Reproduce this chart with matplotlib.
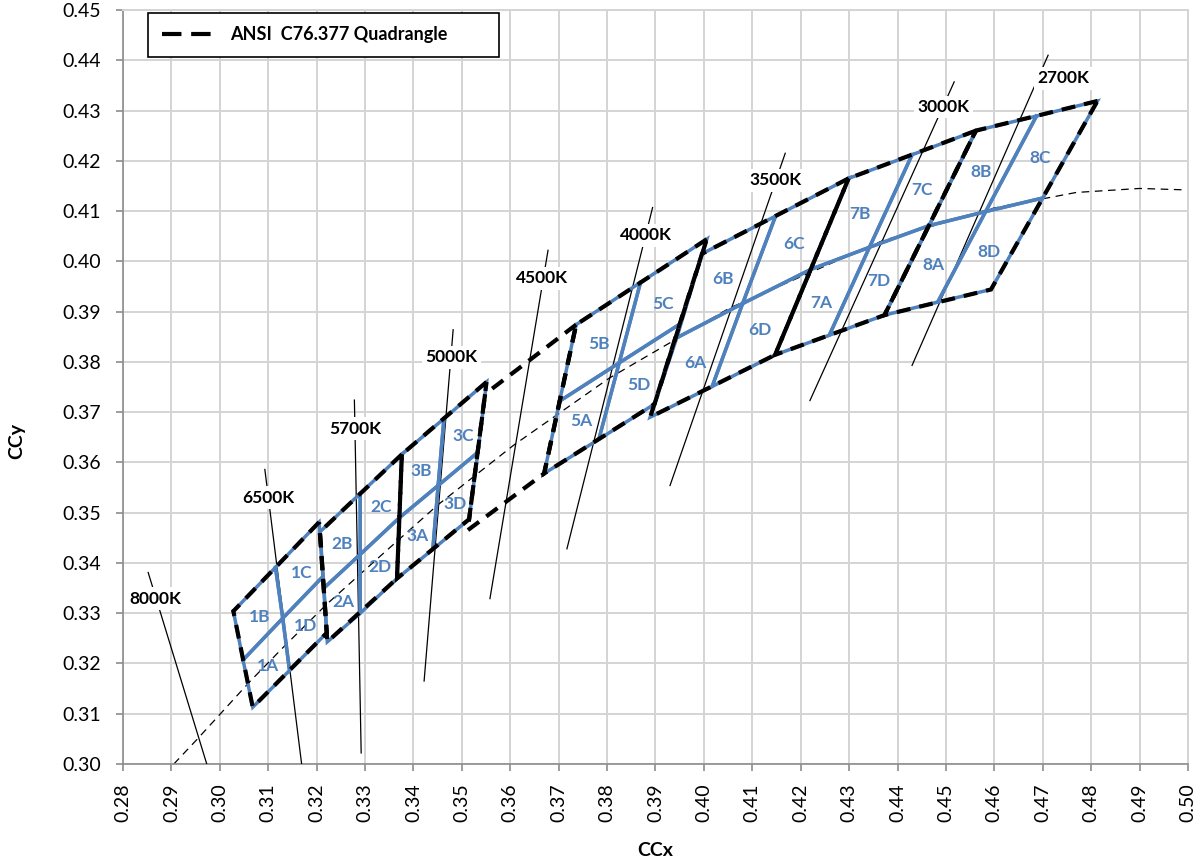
import matplotlib
matplotlib.use('Agg')
import matplotlib.pyplot as plt
from matplotlib.lines import Line2D
import numpy as np

plt.rcParams['font.family'] = ['Lato', 'DejaVu Sans']
plt.rcParams['lines.scale_dashes'] = False

# ---------------- data ----------------
# ANSI C78.377 quadrangles (4 corners each)
ansi_cct = ['2700K', '3000K', '3500K', '4000K', '4500K', '5000K', '5700K', '6500K']
ansi_x = [[0.4813, 0.4562, 0.4373, 0.4593],
          [0.4562, 0.4299, 0.4147, 0.4373],
          [0.4299, 0.3996, 0.3889, 0.4147],
          [0.4006, 0.3736, 0.3670, 0.3898],
          [0.3736, 0.3548, 0.3512, 0.3670],
          [0.3551, 0.3376, 0.3366, 0.3515],
          [0.3376, 0.3207, 0.3222, 0.3366],
          [0.3205, 0.3028, 0.3068, 0.3221]]
ansi_y = [[0.4319, 0.4260, 0.3893, 0.3944],
          [0.4260, 0.4165, 0.3814, 0.3893],
          [0.4165, 0.4015, 0.3690, 0.3814],
          [0.4044, 0.3874, 0.3578, 0.3716],
          [0.3874, 0.3736, 0.3465, 0.3578],
          [0.3760, 0.3616, 0.3369, 0.3487],
          [0.3616, 0.3462, 0.3243, 0.3369],
          [0.3481, 0.3304, 0.3113, 0.3261]]

# sub-bins (blue)
bin_names = ['1A', '1B', '1C', '1D', '2A', '2B', '2C', '2D', '3A', '3B', '3C', '3D',
             '5A', '5B', '5C', '5D', '6A', '6B', '6C', '6D', '7A', '7B', '7C', '7D',
             '8A', '8B', '8C', '8D']
bin_x = [[0.3048, 0.3130, 0.3144, 0.3068], [0.3028, 0.3115, 0.3130, 0.3048],
         [0.3115, 0.3205, 0.3213, 0.3130], [0.3130, 0.3213, 0.3221, 0.3144],
         [0.3215, 0.3290, 0.3290, 0.3222], [0.3207, 0.3290, 0.3290, 0.3215],
         [0.3290, 0.3376, 0.3371, 0.3290], [0.3290, 0.3371, 0.3366, 0.3290],
         [0.3371, 0.3451, 0.3440, 0.3366], [0.3376, 0.3463, 0.3451, 0.3371],
         [0.3463, 0.3551, 0.3533, 0.3451], [0.3451, 0.3533, 0.3515, 0.3440],
         [0.3702, 0.3825, 0.3783, 0.3670], [0.3736, 0.3869, 0.3825, 0.3702],
         [0.3869, 0.4006, 0.3950, 0.3825], [0.3825, 0.3950, 0.3898, 0.3783],
         [0.3944, 0.4080, 0.4017, 0.3889], [0.3996, 0.4148, 0.4080, 0.3944],
         [0.4148, 0.4299, 0.4221, 0.4080], [0.4080, 0.4221, 0.4147, 0.4017],
         [0.4221, 0.4342, 0.4259, 0.4147], [0.4299, 0.4430, 0.4342, 0.4221],
         [0.4430, 0.4562, 0.4465, 0.4342], [0.4342, 0.4465, 0.4373, 0.4259],
         [0.4465, 0.4582, 0.4483, 0.4373], [0.4562, 0.4687, 0.4582, 0.4465],
         [0.4687, 0.4813, 0.4700, 0.4582], [0.4582, 0.4700, 0.4593, 0.4483]]
bin_y = [[0.3207, 0.3290, 0.3186, 0.3113], [0.3304, 0.3391, 0.3290, 0.3207],
         [0.3391, 0.3481, 0.3373, 0.3290], [0.3290, 0.3373, 0.3261, 0.3186],
         [0.3350, 0.3417, 0.3300, 0.3243], [0.3462, 0.3538, 0.3417, 0.3350],
         [0.3538, 0.3616, 0.3490, 0.3417], [0.3417, 0.3490, 0.3369, 0.3300],
         [0.3490, 0.3554, 0.3427, 0.3369], [0.3616, 0.3687, 0.3554, 0.3490],
         [0.3687, 0.3760, 0.3620, 0.3554], [0.3554, 0.3620, 0.3487, 0.3427],
         [0.3722, 0.3798, 0.3646, 0.3578], [0.3874, 0.3958, 0.3798, 0.3722],
         [0.3958, 0.4044, 0.3875, 0.3798], [0.3798, 0.3875, 0.3716, 0.3646],
         [0.3848, 0.3916, 0.3751, 0.3690], [0.4015, 0.4090, 0.3916, 0.3848],
         [0.4090, 0.4165, 0.3984, 0.3916], [0.3916, 0.3984, 0.3814, 0.3751],
         [0.3984, 0.4028, 0.3853, 0.3814], [0.4165, 0.4212, 0.4028, 0.3984],
         [0.4212, 0.4260, 0.4071, 0.4028], [0.4028, 0.4071, 0.3893, 0.3853],
         [0.4071, 0.4099, 0.3919, 0.3893], [0.4260, 0.4289, 0.4099, 0.4071],
         [0.4289, 0.4319, 0.4126, 0.4099], [0.4099, 0.4126, 0.3944, 0.3919]]
bin_label_x = [0.3100, 0.3083, 0.3169, 0.3178, 0.3255, 0.3252, 0.3334, 0.3330,
               0.3408, 0.3417, 0.3502, 0.3486, 0.3746, 0.3784, 0.3915, 0.3865,
               0.3982, 0.4040, 0.4186, 0.4115, 0.4243, 0.4323, 0.4450, 0.4361,
               0.4474, 0.4572, 0.4695, 0.4588]
bin_label_y = [0.3195, 0.3293, 0.3380, 0.3275, 0.3323, 0.3438, 0.3511, 0.3391,
               0.3454, 0.3582, 0.3652, 0.3517, 0.3683, 0.3835, 0.3916, 0.3753,
               0.3797, 0.3964, 0.4035, 0.3863, 0.3917, 0.4094, 0.4141, 0.3960,
               0.3993, 0.4178, 0.4206, 0.4019]

# isotherm lines (CCT lines)
iso_labels = ['8000K', '6500K', '5700K', '5000K', '4500K', '4000K', '3500K', '3000K', '2700K']
iso_x0 = [0.2852, 0.3093, 0.3278, 0.3482, 0.3678, 0.3894, 0.4168, 0.4517, 0.4711]
iso_y0 = [0.3381, 0.3586, 0.3724, 0.3864, 0.4022, 0.4107, 0.4215, 0.4357, 0.4410]
iso_x1 = [0.2973, 0.3169, 0.3292, 0.3422, 0.3558, 0.3717, 0.3930, 0.4219, 0.4430]
iso_y1 = [0.3000, 0.3000, 0.3022, 0.3165, 0.3329, 0.3428, 0.3554, 0.3723, 0.3793]
iso_label_x = [0.2867, 0.3100, 0.3279, 0.3478, 0.3666, 0.3881, 0.4147, 0.4494, 0.4742]
iso_label_y = [0.3329, 0.3530, 0.3667, 0.3809, 0.3966, 0.4052, 0.4161, 0.4307, 0.4364]

# Planckian locus
planck_x = [0.2905, 0.2952, 0.3064, 0.3135, 0.3221, 0.3325, 0.3451, 0.3608,
            0.3805, 0.4053, 0.4369, 0.4599, 0.4769, 0.4900, 0.5000]
planck_y = [0.3000, 0.3048, 0.3166, 0.3236, 0.3318, 0.3408, 0.3516, 0.3635,
            0.3768, 0.3907, 0.4041, 0.4106, 0.4137, 0.4145, 0.4142]

legend_label = 'ANSI  C76.377 Quadrangle'

# ---------------- plot ----------------
W, H = 1197, 864
fig = plt.figure(figsize=(W / 100, H / 100), dpi=100)
ax = fig.add_axes([123 / W, 1 - 764 / H, 1065 / W, 754 / H])

blue = '#4F81BD'
grid_c = '#D4D4D4'

ax.set_xlim(0.28, 0.50)
ax.set_ylim(0.30, 0.45)
xt = np.round(np.arange(0.28, 0.5001, 0.01), 2)
yt = np.round(np.arange(0.30, 0.4501, 0.01), 2)
ax.set_xticks(xt)
ax.set_yticks(yt)
ax.set_xticklabels(['%.2f' % v for v in xt], rotation=90, fontsize=14)
ax.set_yticklabels(['%.2f' % v for v in yt], fontsize=14)
ax.grid(True, color=grid_c, lw=1.4, zorder=0)
ax.set_axisbelow(True)
for s in ['top', 'right']:
    ax.spines[s].set_color(grid_c)
    ax.spines[s].set_linewidth(1.4)
for s in ['left', 'bottom']:
    ax.spines[s].set_color('#8C8C8C')
    ax.spines[s].set_linewidth(1.2)
ax.tick_params(axis='both', direction='out', length=5, width=1.2, color='#8C8C8C')
ax.tick_params(axis='y', pad=11)
ax.tick_params(axis='x', pad=9)

# Planckian locus
ax.plot(planck_x, planck_y, color='black', lw=0.9, linestyle=(0, (5.5, 4)), zorder=2)

# isotherms
for i in range(len(iso_labels)):
    ax.plot([iso_x0[i], iso_x1[i]], [iso_y0[i], iso_y1[i]], color='black', lw=0.9, zorder=3)

# blue sub-bins
for i in range(len(bin_names)):
    xs = bin_x[i] + [bin_x[i][0]]
    ys = bin_y[i] + [bin_y[i][0]]
    ax.plot(xs, ys, color=blue, lw=2.5, solid_joinstyle='miter', zorder=4)

# ANSI quadrangles
for i in range(len(ansi_cct)):
    xs = ansi_x[i] + [ansi_x[i][0]]
    ys = ansi_y[i] + [ansi_y[i][0]]
    ax.plot(xs, ys, color='black', lw=3.0, linestyle=(0, (10, 6.5)),
            dash_joinstyle='miter', zorder=5)

# labels
for i in range(len(iso_labels)):
    ax.text(iso_label_x[i], iso_label_y[i], iso_labels[i], fontsize=12.5, fontweight='bold',
            ha='center', va='center', zorder=6,
            bbox=dict(facecolor='white', edgecolor='none', pad=2.5))
for i in range(len(bin_names)):
    ax.text(bin_label_x[i], bin_label_y[i], bin_names[i], fontsize=12.5, fontweight='bold',
            color=blue, ha='center', va='center', zorder=6)

ax.set_xlabel('CCx', fontsize=14, fontweight='bold', va='center')
ax.set_ylabel('CCy', fontsize=14, fontweight='bold', va='center')
ax.xaxis.set_label_coords(0.5, -(850 - 764) / 754)
ax.yaxis.set_label_coords((17 - 123) / 1065, 0.5 - (441 - 387) / 754)

handle = Line2D([], [], color='black', lw=3.0, linestyle=(0, (14, 7)))
leg = ax.legend([handle], [legend_label], loc='upper left',
                bbox_to_anchor=(0.0235, 0.9964, 0.3296, 0), mode='expand',
                borderaxespad=0, fancybox=False, framealpha=1, edgecolor='black',
                prop={'weight': 'bold', 'size': 13}, handlelength=3.2,
                handletextpad=0.6, borderpad=0.75)
leg.get_frame().set_linewidth(1.2)
leg.set_zorder(10)

fig.savefig('out.png', dpi=100)
